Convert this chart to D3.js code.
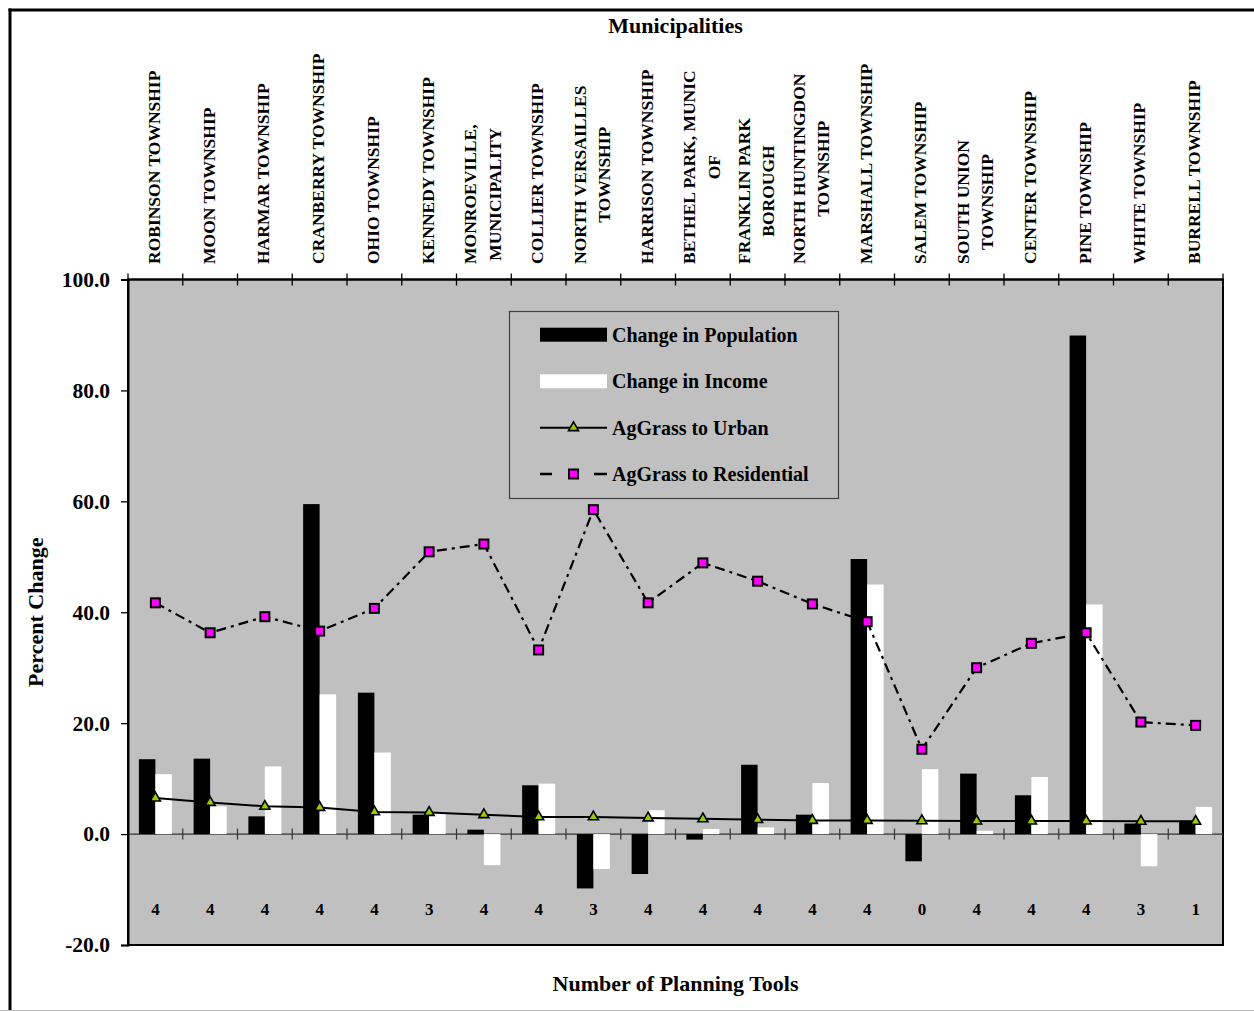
<!DOCTYPE html>
<html>
<head>
<meta charset="utf-8">
<script src="https://cdn.jsdelivr.net/npm/d3@7"></script>
<style>
  html, body { margin: 0; padding: 0; background: #ffffff; }
  svg { display: block; }
  text { font-family: "Liberation Serif", "Times New Roman", serif; font-weight: bold; fill: #000; }
</style>
</head>
<body>
<svg id="chart" width="1254" height="1011"></svg>
<script>
// ---------------- data ----------------
const municipalities = [
  "ROBINSON TOWNSHIP", "MOON TOWNSHIP", "HARMAR TOWNSHIP", "CRANBERRY TOWNSHIP",
  "OHIO TOWNSHIP", "KENNEDY TOWNSHIP", "MONROEVILLE,\nMUNICIPALITY", "COLLIER TOWNSHIP",
  "NORTH VERSAILLES\nTOWNSHIP", "HARRISON TOWNSHIP", "BETHEL PARK, MUNIC\nOF",
  "FRANKLIN PARK\nBOROUGH", "NORTH HUNTINGDON\nTOWNSHIP", "MARSHALL TOWNSHIP",
  "SALEM TOWNSHIP", "SOUTH UNION\nTOWNSHIP", "CENTER TOWNSHIP", "PINE TOWNSHIP",
  "WHITE TOWNSHIP", "BURRELL TOWNSHIP"
];
const changeInPopulation = [13.5, 13.6, 3.2, 59.5, 25.5, 3.5, 0.8, 8.8, -9.8, -7.2, -1.0, 12.5, 3.5, 49.6, -4.9, 10.9, 7.0, 89.9, 1.9, 2.4];
const changeInIncome     = [10.8, 5.0, 12.2, 25.2, 14.7, 3.8, -5.6, 9.1, -6.3, 4.3, 0.9, 1.2, 9.2, 45.0, 11.7, 0.6, 10.3, 41.4, -5.8, 4.9];
const agGrassToUrban     = [6.5, 5.7, 5.0, 4.8, 4.0, 3.9, 3.5, 3.1, 3.1, 2.9, 2.75, 2.6, 2.45, 2.45, 2.4, 2.35, 2.35, 2.35, 2.3, 2.3];
const agGrassToResidential = [41.7, 36.3, 39.2, 36.6, 40.7, 50.9, 52.3, 33.2, 58.5, 41.7, 48.9, 45.6, 41.5, 38.3, 15.3, 30.0, 34.4, 36.3, 20.2, 19.6];
const planningTools      = [4, 4, 4, 4, 4, 3, 4, 4, 3, 4, 4, 4, 4, 4, 0, 4, 4, 4, 3, 1];
const yTicks = [-20, 0, 20, 40, 60, 80, 100];
const seriesNames = ["Change in Population", "Change in Income", "AgGrass to Urban", "AgGrass to Residential"];

// ---------------- layout ----------------
const svg = d3.select("#chart");
const plot = { left: 128, right: 1223, top: 279.5, bottom: 945 };

const x = d3.scaleBand().domain(d3.range(municipalities.length)).range([plot.left, plot.right]).padding(0);
const y = d3.scaleLinear().domain([-20, 100]).range([plot.bottom, plot.top]);
const cx = i => x(i) + x.bandwidth() / 2;

// outer frame (cropped)
svg.append("line").attr("x1", 10).attr("x2", 10).attr("y1", 8.5).attr("y2", 1011).attr("stroke", "#000").attr("stroke-width", 3);
svg.append("line").attr("x1", 8.5).attr("x2", 1254).attr("y1", 10).attr("y2", 10).attr("stroke", "#000").attr("stroke-width", 3);
svg.append("line").attr("x1", 0).attr("x2", 1254).attr("y1", 1010.5).attr("y2", 1010.5).attr("stroke", "#bbbbbb").attr("stroke-width", 1);

// plot background
svg.append("rect")
  .attr("x", plot.left).attr("y", plot.top)
  .attr("width", plot.right - plot.left).attr("height", plot.bottom - plot.top)
  .attr("fill", "#c0c0c0").attr("stroke", "#000").attr("stroke-width", 2);

// zero line
svg.append("line")
  .attr("x1", plot.left).attr("x2", plot.right)
  .attr("y1", y(0)).attr("y2", y(0))
  .attr("stroke", "#333").attr("stroke-width", 1.3);

// category boundaries
const bounds = d3.range(municipalities.length + 1).map(i => plot.left + i * x.bandwidth());
svg.append("g").selectAll("line").data(bounds.slice(1, -1)).join("line")
  .attr("x1", d => d).attr("x2", d => d)
  .attr("y1", y(0) - 5.5).attr("y2", y(0) + 5.5)
  .attr("stroke", "#333").attr("stroke-width", 1.2);

// top axis line + crossing ticks
svg.append("line").attr("x1", plot.left).attr("x2", plot.right).attr("y1", plot.top).attr("y2", plot.top)
  .attr("stroke", "#000").attr("stroke-width", 2);
svg.append("g").selectAll("line").data(bounds).join("line")
  .attr("x1", d => d).attr("x2", d => d)
  .attr("y1", plot.top - 6).attr("y2", plot.top + 6)
  .attr("stroke", "#000").attr("stroke-width", 1.3);

// y axis
const yAxis = svg.append("g")
  .attr("transform", `translate(${plot.left},0)`)
  .call(d3.axisLeft(y).tickValues(yTicks).tickFormat(d => d.toFixed(1)).tickSize(7).tickPadding(11));
yAxis.select(".domain").attr("stroke", "#000").attr("stroke-width", 2);
yAxis.selectAll(".tick line").attr("stroke", "#000").attr("stroke-width", 1.3);
yAxis.selectAll(".tick text")
  .style("font-family", '"Liberation Serif", "Times New Roman", serif')
  .style("font-weight", "bold").style("font-size", "21.5px").attr("fill", "#000");

// bars
const bw = 16.5;
svg.append("g").selectAll("rect").data(changeInPopulation).join("rect")
  .attr("x", (d, i) => cx(i) - bw)
  .attr("width", bw)
  .attr("y", d => y(Math.max(0, d)))
  .attr("height", d => Math.abs(y(d) - y(0)))
  .attr("fill", "#000");
svg.append("g").selectAll("rect").data(changeInIncome).join("rect")
  .attr("x", (d, i) => cx(i))
  .attr("width", bw)
  .attr("y", d => y(Math.max(0, d)))
  .attr("height", d => Math.abs(y(d) - y(0)))
  .attr("fill", "#fff");

// lines
const line = d3.line().x((d, i) => cx(i)).y(d => y(d));
svg.append("path").datum(agGrassToUrban).attr("d", line)
  .attr("fill", "none").attr("stroke", "#000").attr("stroke-width", 2);
svg.append("path").datum(agGrassToResidential).attr("d", line)
  .attr("fill", "none").attr("stroke", "#000").attr("stroke-width", 2.2)
  .attr("stroke-dasharray", "10,5,3,5");

const tri = d3.symbol().type(d3.symbolTriangle).size(44);
svg.append("g").selectAll("path").data(agGrassToUrban).join("path")
  .attr("d", tri)
  .attr("transform", (d, i) => `translate(${cx(i)},${y(d)})`)
  .attr("fill", "#99cc00").attr("stroke", "#000").attr("stroke-width", 1.6);

svg.append("g").selectAll("rect").data(agGrassToResidential).join("rect")
  .attr("x", (d, i) => cx(i) - 4.5).attr("y", d => y(d) - 4.5)
  .attr("width", 9).attr("height", 9)
  .attr("fill", "#ff00ff").attr("stroke", "#000").attr("stroke-width", 2);

// number of planning tools
svg.append("g").selectAll("text").data(planningTools).join("text")
  .attr("x", (d, i) => cx(i)).attr("y", 914.5)
  .attr("text-anchor", "middle").style("font-size", "17px")
  .text(d => d);

// category labels (rotated)
const labelBase = 264, lineGap = 24.5;
municipalities.forEach((name, i) => {
  const lines = name.split("\n");
  const n = lines.length;
  const g = svg.append("g");
  const texts = lines.map((ln, j) => g.append("text").style("font-size", "17.5px").text(ln));
  const maxLen = d3.max(texts, t => t.node().getComputedTextLength());
  texts.forEach((t, j) => {
    const bx = cx(i) + 4.5 + (j - (n - 1) / 2) * lineGap;
    t.attr("text-anchor", "middle")
     .attr("transform", `translate(${bx},${labelBase - maxLen / 2}) rotate(-90)`);
  });
});

// titles
svg.append("text").attr("x", (plot.left + plot.right) / 2).attr("y", 33)
  .attr("text-anchor", "middle").style("font-size", "22px").text("Municipalities");
svg.append("text").attr("x", (plot.left + plot.right) / 2).attr("y", 991)
  .attr("text-anchor", "middle").style("font-size", "22px").text("Number of Planning Tools");
svg.append("text")
  .attr("transform", `translate(43,${(plot.top + plot.bottom) / 2}) rotate(-90)`)
  .attr("text-anchor", "middle").style("font-size", "22px").text("Percent Change");

// legend
const lg = svg.append("g");
lg.append("rect").attr("x", 509.5).attr("y", 311.5).attr("width", 329).attr("height", 187)
  .attr("fill", "#c0c0c0").attr("stroke", "#404040").attr("stroke-width", 1.2);
const rowsY = [334.7, 381.3, 427.7, 474];
const sx0 = 540, sx1 = 607, smid = 573.5;
lg.append("rect").attr("x", sx0).attr("y", rowsY[0] - 7).attr("width", sx1 - sx0).attr("height", 14).attr("fill", "#000");
lg.append("rect").attr("x", sx0).attr("y", rowsY[1] - 7).attr("width", sx1 - sx0).attr("height", 14).attr("fill", "#fff");
lg.append("line").attr("x1", sx0).attr("x2", sx1).attr("y1", rowsY[2]).attr("y2", rowsY[2])
  .attr("stroke", "#000").attr("stroke-width", 2);
lg.append("path").attr("d", tri).attr("transform", `translate(${smid},${rowsY[2]})`)
  .attr("fill", "#99cc00").attr("stroke", "#000").attr("stroke-width", 1.6);
lg.append("line").attr("x1", sx0).attr("x2", sx1).attr("y1", rowsY[3]).attr("y2", rowsY[3])
  .attr("stroke", "#000").attr("stroke-width", 2.6).attr("stroke-dasharray", "12,42,13");
lg.append("rect").attr("x", smid - 4.5).attr("y", rowsY[3] - 4.5).attr("width", 9).attr("height", 9)
  .attr("fill", "#ff00ff").attr("stroke", "#000").attr("stroke-width", 2);
lg.selectAll("text.lbl").data(seriesNames).join("text")
  .attr("class", "lbl")
  .attr("x", 612).attr("y", (d, i) => rowsY[i])
  .attr("dy", "0.34em")
  .style("font-size", "20px")
  .text(d => d);
</script>
</body>
</html>
